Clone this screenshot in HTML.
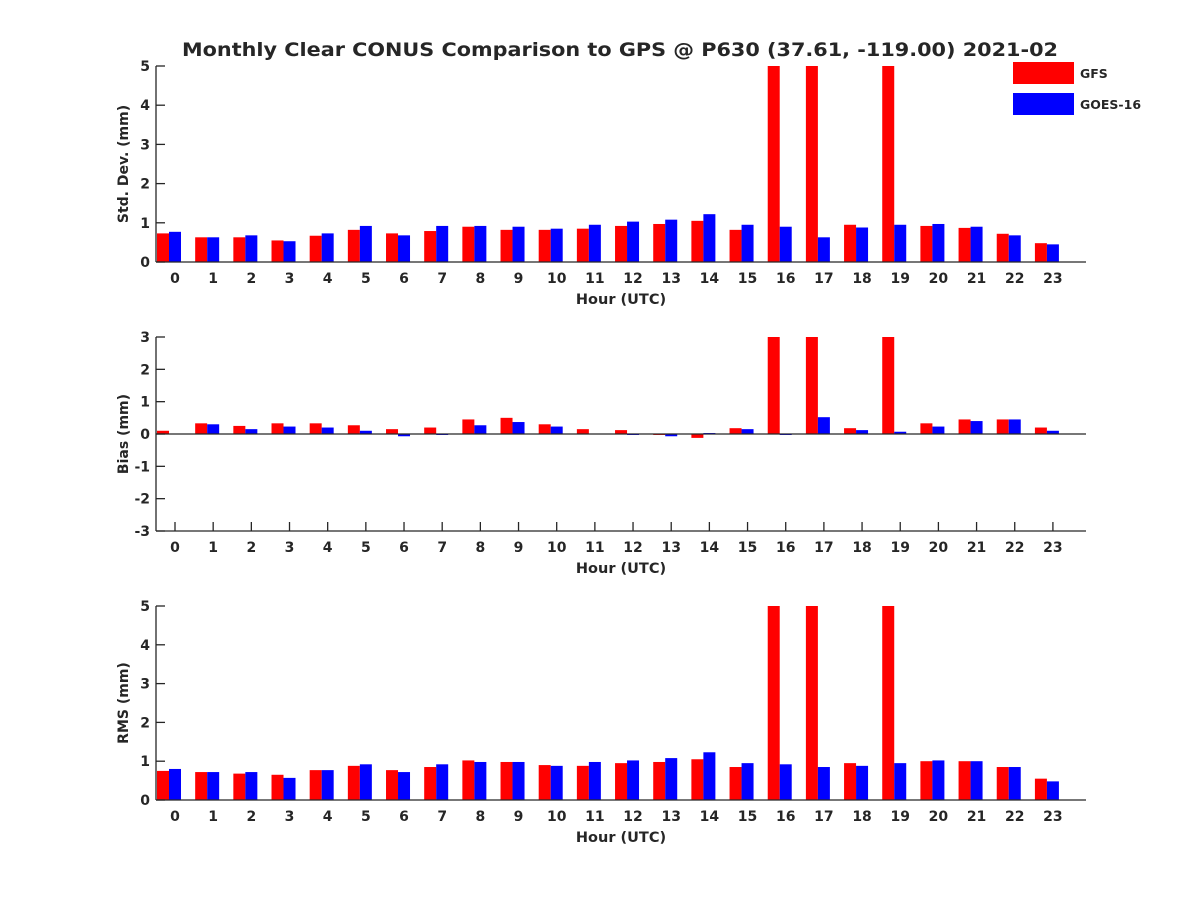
<!DOCTYPE html>
<html><head><meta charset="utf-8"><style>
body{margin:0;background:#fff;}
svg text{font-family:"DejaVu Sans","Liberation Sans",sans-serif;font-weight:bold;fill:#262626;}
</style></head><body>
<svg id="chart" width="1200" height="900" xmlns="http://www.w3.org/2000/svg">
<rect width="1200" height="900" fill="#fff"/>
<text x="620" y="56" font-size="19" textLength="876" lengthAdjust="spacingAndGlyphs" text-anchor="middle">Monthly Clear CONUS Comparison to GPS @ P630 (37.61, -119.00) 2021-02</text>
<g>
<rect x="1013" y="62" width="61" height="22" fill="#ff0000"/>
<text x="1080" y="78" font-size="12.5">GFS</text>
<rect x="1013" y="93" width="61" height="22" fill="#0000ff"/>
<text x="1080" y="109" font-size="12.5">GOES-16</text>
</g>
</svg>
<script>
const hours = [0,1,2,3,4,5,6,7,8,9,10,11,12,13,14,15,16,17,18,19,20,21,22,23];
const stdGFS = [0.73,0.63,0.63,0.55,0.67,0.82,0.73,0.79,0.9,0.82,0.82,0.85,0.92,0.97,1.05,0.82,5,5,0.95,5,0.92,0.87,0.72,0.48];
const stdGOES = [0.77,0.63,0.68,0.53,0.73,0.92,0.68,0.92,0.92,0.9,0.85,0.95,1.03,1.08,1.22,0.95,0.9,0.63,0.88,0.95,0.97,0.9,0.68,0.45];
const biasGFS = [0.1,0.33,0.25,0.33,0.33,0.27,0.15,0.2,0.45,0.5,0.3,0.15,0.12,-0.03,-0.12,0.18,3,3,0.18,3,0.33,0.45,0.45,0.2];
const biasGOES = [0,0.3,0.15,0.23,0.2,0.1,-0.07,-0.03,0.27,0.37,0.23,0,-0.03,-0.07,0.03,0.15,-0.03,0.52,0.12,0.07,0.23,0.4,0.45,0.1];
const rmsGFS = [0.75,0.72,0.68,0.65,0.77,0.88,0.77,0.85,1.02,0.98,0.9,0.88,0.95,0.98,1.05,0.85,5,5,0.95,5,1.0,1.0,0.85,0.55];
const rmsGOES = [0.8,0.72,0.72,0.57,0.77,0.92,0.72,0.92,0.98,0.98,0.88,0.98,1.02,1.08,1.23,0.95,0.92,0.85,0.88,0.95,1.02,1.0,0.85,0.48];
const stdTicks = [0,1,2,3,4,5];
const biasTicks = [-3,-2,-1,0,1,2,3];
const rmsTicks = [0,1,2,3,4,5];

const NS='http://www.w3.org/2000/svg';
const svg=document.getElementById('chart');
function mk(tag,attrs,parent){const e=document.createElementNS(NS,tag);for(const k in attrs)e.setAttribute(k,attrs[k]);(parent||svg).appendChild(e);return e;}
const X0=156,X1=1086;
function xb(h){return 169+h*38.17;}

function panel(id,top,bottom,ymin,ymax,ticks,ylabel,red,blue){
  const g=mk('g',{});
  
  
  const y=v=>bottom-(v-ymin)/(ymax-ymin)*(bottom-top);
  const clamp=v=>Math.max(ymin,Math.min(ymax,v));
  const base=y(Math.max(ymin,Math.min(ymax,0)));
  hours.forEach(h=>{
    const cx=xb(h)+6;
    mk('line',{x1:cx,x2:cx,y1:bottom,y2:bottom-9,stroke:'#262626','stroke-width':1.3},g);
  });
  hours.forEach((h,i)=>{
    const b=xb(h);
    [[red[i],b-12,'#ff0000','gfs'],[blue[i],b,'#0000ff','goes16']].forEach(([v,x,c,n])=>{
      const yv=y(clamp(v));
      const r=mk('rect',{x:x,y:Math.min(yv,base),width:12,height:Math.max(Math.abs(base-yv),0.5),fill:c},g);
      
      
    });
  });
  const ax=mk('line',{x1:X0,x2:X0,y1:top,y2:bottom,stroke:'#262626','stroke-width':1.3},g);
  
  
  const bx=mk('line',{x1:X0,x2:X1,y1:bottom,y2:bottom,stroke:'#262626','stroke-width':1.3},g);
  
  
  if(ymin<0){
    const z=mk('line',{x1:X0,x2:X1,y1:base,y2:base,stroke:'#262626','stroke-width':1.3},g);
    
    
  }
  ticks.forEach(t=>{
    mk('line',{x1:X0,x2:X0+9,y1:y(t),y2:y(t),stroke:'#262626','stroke-width':1.3},g);
    const tx=mk('text',{x:X0-6,y:y(t)+5,'font-size':14,'text-anchor':'end'},g);
    
    
    tx.textContent=t;
  });
  hours.forEach(h=>{
    const cx=xb(h)+6;
    const tx=mk('text',{x:cx,y:bottom+21,'font-size':14,'text-anchor':'middle'},g);
    
    
    tx.textContent=h;
  });
  const xl=mk('text',{x:621,y:bottom+42,'font-size':14.5,'text-anchor':'middle'},g);
  
  
  xl.textContent='Hour (UTC)';
  const yc=(top+bottom)/2;
  const yl=mk('text',{x:128,y:yc,'font-size':14,'text-anchor':'middle',transform:'rotate(-90 128 '+yc+')'},g);
  
  
  yl.textContent=ylabel;
}
panel('std',66,262,0,5,stdTicks,'Std. Dev. (mm)',stdGFS,stdGOES);
panel('bias',337,531,-3,3,biasTicks,'Bias (mm)',biasGFS,biasGOES);
panel('rms',606,800,0,5,rmsTicks,'RMS (mm)',rmsGFS,rmsGOES);
</script>
</body></html>
